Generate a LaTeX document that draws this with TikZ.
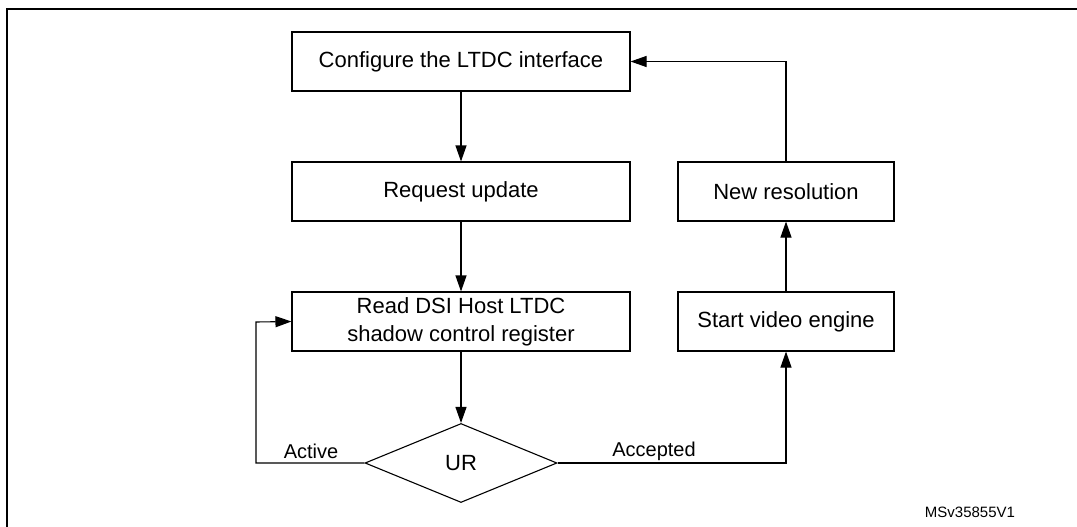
\documentclass[tikz,border=0pt]{standalone}
\usepackage{fontspec}
\setmainfont{Liberation Sans}
\usetikzlibrary{shapes.geometric,arrows.meta}
\begin{document}
\begin{tikzpicture}[x=1pt,y=-1pt,
 box/.style={draw,line width=1.1pt,minimum width=338pt,minimum height=59pt,align=center,font=\fontsize{22}{28}\selectfont,inner sep=0},
 sbox/.style={box,minimum width=216pt},
 arr/.style={-{Triangle[length=16pt,width=11pt]},line width=1.1pt},
 lbl/.style={font=\fontsize{20}{24}\selectfont}]
\useasboundingbox (0,0) rectangle (1077,527);
\draw[line width=2pt] (7,9.5) rectangle (1080,530);
\node[box] (cfg) at (461,61.5) {Configure the LTDC interface};
\node[box] (req) at (461,191.5) {Request update};
\node[box] (rd) at (461,321.5) {Read DSI Host LTDC\\shadow control register};
\node[draw,line width=1.1pt,diamond,aspect=2.42,minimum width=192pt,minimum height=79pt,inner sep=0,font=\fontsize{22}{28}\selectfont] (ur) at (461,463) {UR};
\node[sbox] (nr) at (786,191.5) {New resolution};
\node[sbox] (sv) at (786,321.5) {Start video engine};
\coordinate (a1) at (256,463);
\coordinate (a2) at (256,322);
\coordinate (b1) at (786,463);
\coordinate (c1) at (786,61.5);
\draw[arr] (cfg) -- (req);
\draw[arr] (req) -- (rd);
\draw[arr] (rd) -- (ur);
\draw[arr] (ur.west) -- (a1) -- (a2) -- (rd.west);
\draw[arr] (ur.east) -- (b1) -- (sv.south);
\draw[arr] (sv) -- (nr);
\draw[arr] (nr.north) -- (c1) -- (cfg.east);
\node[lbl] (la) at (311,451) {Active};
\node[lbl] (lc) at (654,451) {Accepted};
\node[font=\fontsize{15}{18}\selectfont] (ms) at (970,512) {MSv35855V1};
\end{tikzpicture}
\end{document}
